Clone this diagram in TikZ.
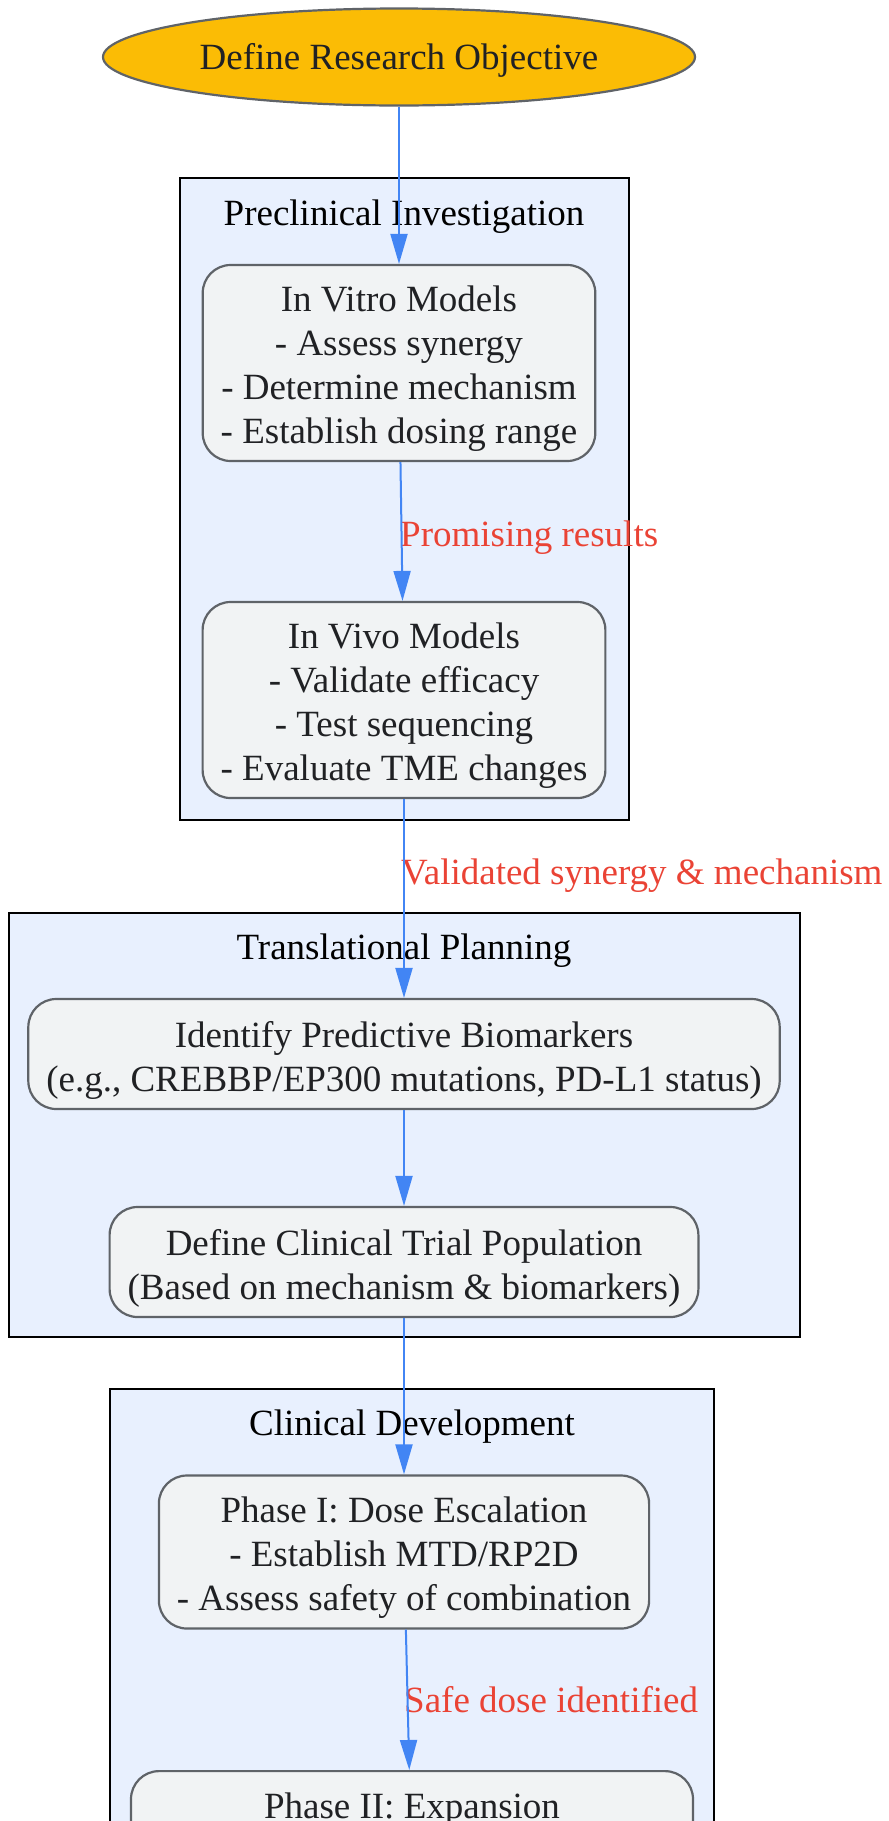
\documentclass[tikz,border=0pt]{standalone}
\usepackage{fontspec}
\setmainfont{Liberation Serif}
\usetikzlibrary{shapes.geometric,arrows.meta}
\definecolor{objfill}{HTML}{FBBC05}
\definecolor{nodeline}{HTML}{5F6368}
\definecolor{clusterfill}{HTML}{E8F0FE}
\definecolor{boxfill}{HTML}{F1F3F4}
\definecolor{flowblue}{HTML}{4285F4}
\definecolor{labelred}{HTML}{EA4335}
\definecolor{inkdark}{HTML}{202124}
\tikzset{
  txt/.style={font=\fontsize{37}{44}\selectfont},
  objective/.style={txt, ellipse, draw=nodeline, fill=objfill, line width=2.2pt, text=inkdark, minimum width=592pt, minimum height=97pt, inner sep=0pt, text height=33pt, text depth=8pt},
  stagebox/.style={txt, draw=nodeline, fill=boxfill, line width=2.2pt, rounded corners=28pt, align=center, text=inkdark, inner xsep=18pt, inner ysep=16pt},
  twolines/.style={text height=76pt, text depth=2pt},
  threelines/.style={text height=119pt, text depth=2pt},
  fourlines/.style={text height=162pt, text depth=2pt},
  cluster/.style={draw=black, fill=clusterfill, line width=2.4pt},
  clusterlabel/.style={txt, text=black, inner sep=0pt},
  flowlabel/.style={txt, text=labelred, inner sep=0pt, anchor=base west},
  flow/.style={draw=flowblue, line width=2pt, -{Triangle[length=30pt,width=17pt]}}
}
\begin{document}
\begin{tikzpicture}[x=1pt,y=-1pt]
                        \useasboundingbox (0,0) rectangle (889,1821);
                        \clip (0,0) rectangle (889,1821);

                        \filldraw[cluster] (180,178) rectangle (629,820);
                        \filldraw[cluster] (9,913) rectangle (800,1337);
                        \filldraw[cluster] (110,1389) rectangle (714,1880);
                        \node[clusterlabel] (precl) at (404,217) {Preclinical Investigation};
                        \node[clusterlabel] (transl) at (404,951) {Translational Planning};
                        \node[clusterlabel] (clindev) at (412,1427) {Clinical Development};

                        \node[objective] (obj) at (399,57) {Define Research Objective};
                        \node[stagebox, fourlines] (vitro) at (399,363) {In Vitro Models\\- Assess synergy\\- Determine mechanism\\- Establish dosing range};
                        \node[stagebox, fourlines] (vivo) at (404,700) {In Vivo Models\\- Validate efficacy\\- Test sequencing\\- Evaluate TME changes};
                        \node[stagebox, twolines] (biomark) at (404,1054) {Identify Predictive Biomarkers\\(e.g., CREBBP/EP300 mutations, PD-L1 status)};
                        \node[stagebox, twolines] (population) at (404,1262) {Define Clinical Trial Population\\(Based on mechanism \& biomarkers)};
                        \node[stagebox, threelines] (phaseone) at (404,1552) {Phase I: Dose Escalation\\- Establish MTD/RP2D\\- Assess safety of combination};
                        \node[stagebox, anchor=north, minimum width=562pt, text height=31pt, text depth=160pt] (phasetwo) at (412,1770) {Phase II: Expansion};

                        \node[flowlabel] (promising) at (400,546) {Promising results};
                        \node[flowlabel] (validated) at (401,884) {Validated synergy \& mechanism};
                        \node[flowlabel] (safedose) at (404,1712) {Safe dose identified};

                        \draw[flow] (obj) -- (vitro);
                        \draw[flow] (vitro) -- (vivo);
                        \draw[flow] (vivo) -- (biomark);
                        \draw[flow] (biomark) -- (population);
                        \draw[flow] (population) -- (phaseone);
                        \draw[flow] (phaseone) -- (phasetwo);
\end{tikzpicture}
\end{document}
